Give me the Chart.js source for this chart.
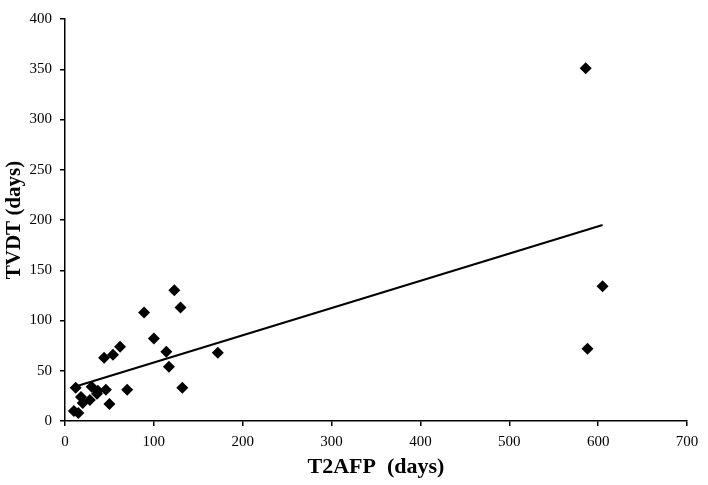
<!DOCTYPE html>
<html>
<head>
<meta charset="utf-8">
<script src="https://cdn.jsdelivr.net/npm/chart.js@4"></script>
<style>
  html, body { margin: 0; padding: 0; background: #fff; }
  #wrap { width: 708px; height: 485px; }
</style>
</head>
<body>
<div id="wrap"><canvas id="tvdt"></canvas></div>
<script>
// values (days)
const t2afp = [586, 605, 588, 123, 130, 89, 100, 62, 114, 172, 54, 44, 117, 132, 70,
               12, 30, 37, 46, 36, 18, 28, 20, 50, 10, 15];
const tvdt  = [351, 134, 72, 130, 113, 108, 82, 74, 69, 68, 66, 63, 54, 33, 31,
               33, 34, 30, 31, 27, 24, 21, 18, 17, 10, 8];
const xTicks = [0, 100, 200, 300, 400, 500, 600, 700];
const yTicks = [0, 50, 100, 150, 200, 250, 300, 350, 400];

const points = t2afp.map((x, i) => ({ x: x, y: tvdt[i] }));

// least squares trend line, like excel's linear trendline
const n = t2afp.length;
const mx = t2afp.reduce((a, b) => a + b, 0) / n;
const my = tvdt.reduce((a, b) => a + b, 0) / n;
let sxy = 0, sxx = 0;
for (let i = 0; i < n; i++) {
    sxy += (t2afp[i] - mx) * (tvdt[i] - my);
    sxx += (t2afp[i] - mx) * (t2afp[i] - mx);
}
const slope = sxy / sxx;
const icept = my - slope * mx;
const xMin = Math.min(...t2afp), xMax = Math.max(...t2afp);
const trend = [
    { x: xMin, y: icept + slope * xMin },
    { x: xMax, y: icept + slope * xMax }
];

const serif = '"Liberation Serif", "Times New Roman", serif';

const ctx = document.getElementById('tvdt').getContext('2d');
const chart = new Chart(ctx, {
    type: 'scatter',
    data: {
        datasets: [
            {
                data: points,
                pointStyle: 'rectRot',
                pointRadius: 6,
                backgroundColor: '#000',
                borderColor: '#000',
                borderWidth: 0,
                showLine: false
            },
            {
                data: trend,
                showLine: true,
                borderColor: '#000',
                borderWidth: 2,
                pointRadius: 0,
                fill: false
            }
        ]
    },
    options: {
        responsive: true,
        maintainAspectRatio: false,
        animation: false,
        layout: { padding: { top: 19, right: 21, bottom: 0, left: 0 } },
        plugins: {
            legend: { display: false },
            tooltip: { enabled: false }
        },
        scales: {
            x: {
                type: 'linear',
                min: 0,
                max: 700,
                afterBuildTicks: (s) => { s.ticks = xTicks.map(v => ({ value: v })); },
                afterFit: (s) => { s.height = 64; },
                grid: { drawOnChartArea: false, drawTicks: true, tickLength: 5, color: '#000', lineWidth: 1.5 },
                border: { color: '#000', width: 1.5 },
                ticks: { color: '#000', font: { family: serif, size: 15 }, padding: 7, maxRotation: 0 },
                title: {
                    display: true,
                    text: 'T2AFP  (days)',
                    color: '#000',
                    font: { family: serif, size: 22, weight: 'bold' },
                    padding: { top: 0, bottom: 4 }
                }
            },
            y: {
                type: 'linear',
                min: 0,
                max: 400,
                afterBuildTicks: (s) => { s.ticks = yTicks.map(v => ({ value: v })); },
                afterFit: (s) => { s.width = 65; },
                grid: { drawOnChartArea: false, drawTicks: true, tickLength: 5, color: '#000', lineWidth: 1.5 },
                border: { color: '#000', width: 1.5 },
                ticks: { color: '#000', font: { family: serif, size: 15 }, padding: 8 },
                title: {
                    display: true,
                    text: 'TVDT (days)',
                    color: '#000',
                    font: { family: serif, size: 21, weight: 'bold' },
                    padding: { top: 2, bottom: 0 }
                }
            }
        }
    }
});
</script>
</body>
</html>
